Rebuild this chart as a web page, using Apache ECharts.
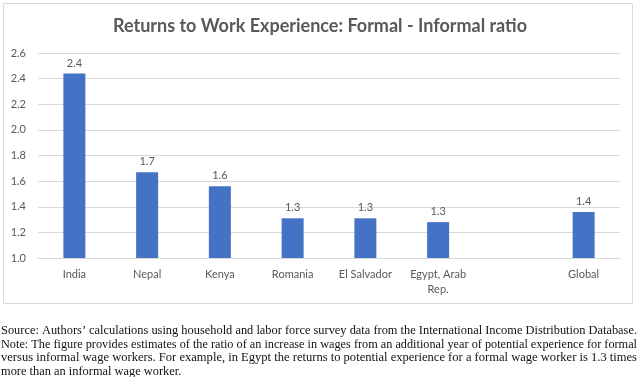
<!DOCTYPE html>
<html>
<head>
<meta charset="utf-8">
<script src="https://cdn.jsdelivr.net/npm/echarts@6/dist/echarts.min.js"></script>
<style>
  html, body { margin: 0; padding: 0; background: #fff; }
  #chart { width: 640px; height: 377px; }
</style>
</head>
<body>
<div id="chart"></div>
<script>
// categories (blank slot before Global, as in the source figure)
const countries = ["India", "Nepal", "Kenya", "Romania", "El Salvador", "Egypt, Arab\nRep.", "", "Global"];
const ratios = [2.44, 1.67, 1.56, 1.31, 1.31, 1.28, null, 1.36];
const yTicks = { min: 1.0, max: 2.6, step: 0.2 };

const noteLines = [
  "Source: Authors\u2019 calculations using household and labor force survey data from the International Income Distribution Database.",
  "Note: The figure provides estimates of the ratio of an increase in wages from an additional year of potential experience for formal",
  "versus informal wage workers. For example, in Egypt the returns to potential experience for a formal wage worker is 1.3 times",
  "more than an informal wage worker."
];

const noteFont = "13px 'Liberation Serif', 'DejaVu Serif', serif";
const lineWidth = 636;

// the source text is set narrow and justified, so squeeze each line to fit
const ctx = document.createElement("canvas").getContext("2d");
ctx.font = noteFont;
const baseScale = lineWidth / ctx.measureText(noteLines[0]).width;

const chart = echarts.init(document.getElementById("chart"));

const notes = noteLines.map((t, i) => {
  const last = i === noteLines.length - 1;
  const s = last ? baseScale : lineWidth / ctx.measureText(t).width;
  return {
    type: "text",
    x: 1,
    y: 324 + i * 13.6,
    scaleX: s,
    style: { text: t, font: noteFont, fill: "#111" }
  };
});

chart.setOption({
  animation: false,
  title: {
    text: "Returns to Work Experience: Formal - Informal ratio",
    left: "center",
    top: 12,
    textStyle: {
      fontFamily: "Lato, 'Noto Sans', sans-serif",
      fontSize: 18,
      fontWeight: "bold",
      color: "#595959"
    }
  },
  grid: { left: 38, right: 20, top: 53, bottom: 119 },
  xAxis: {
    type: "category",
    data: countries,
    axisLine: { lineStyle: { color: "#d9d9d9" } },
    axisTick: { show: false },
    axisLabel: {
      interval: 0,
      color: "#595959",
      fontFamily: "Lato, 'Noto Sans', sans-serif",
      fontSize: 11,
      margin: 9,
      lineHeight: 15
    }
  },
  yAxis: {
    type: "value",
    min: yTicks.min,
    max: yTicks.max,
    interval: yTicks.step,
    axisLine: { show: false },
    axisTick: { show: false },
    splitLine: { lineStyle: { color: "#d9d9d9" } },
    axisLabel: {
      color: "#595959",
      fontFamily: "Lato, 'Noto Sans', sans-serif",
      fontSize: 11,
      margin: 12,
      formatter: v => v.toFixed(1)
    }
  },
  series: [{
    type: "bar",
    data: ratios,
    barWidth: 22,
    itemStyle: { color: "#4472c4" },
    label: {
      show: true,
      position: "top",
      distance: 5,
      color: "#595959",
      fontFamily: "Lato, 'Noto Sans', sans-serif",
      fontSize: 11,
      formatter: p => p.value == null ? "" : p.value.toFixed(1)
    }
  }],
  graphic: [
    {
      type: "rect",
      shape: { x: 3.5, y: 3.5, width: 629, height: 300 },
      style: { fill: "none", stroke: "#d9d9d9", lineWidth: 1 },
      silent: true
    },
    ...notes
  ]
});
</script>
</body>
</html>
